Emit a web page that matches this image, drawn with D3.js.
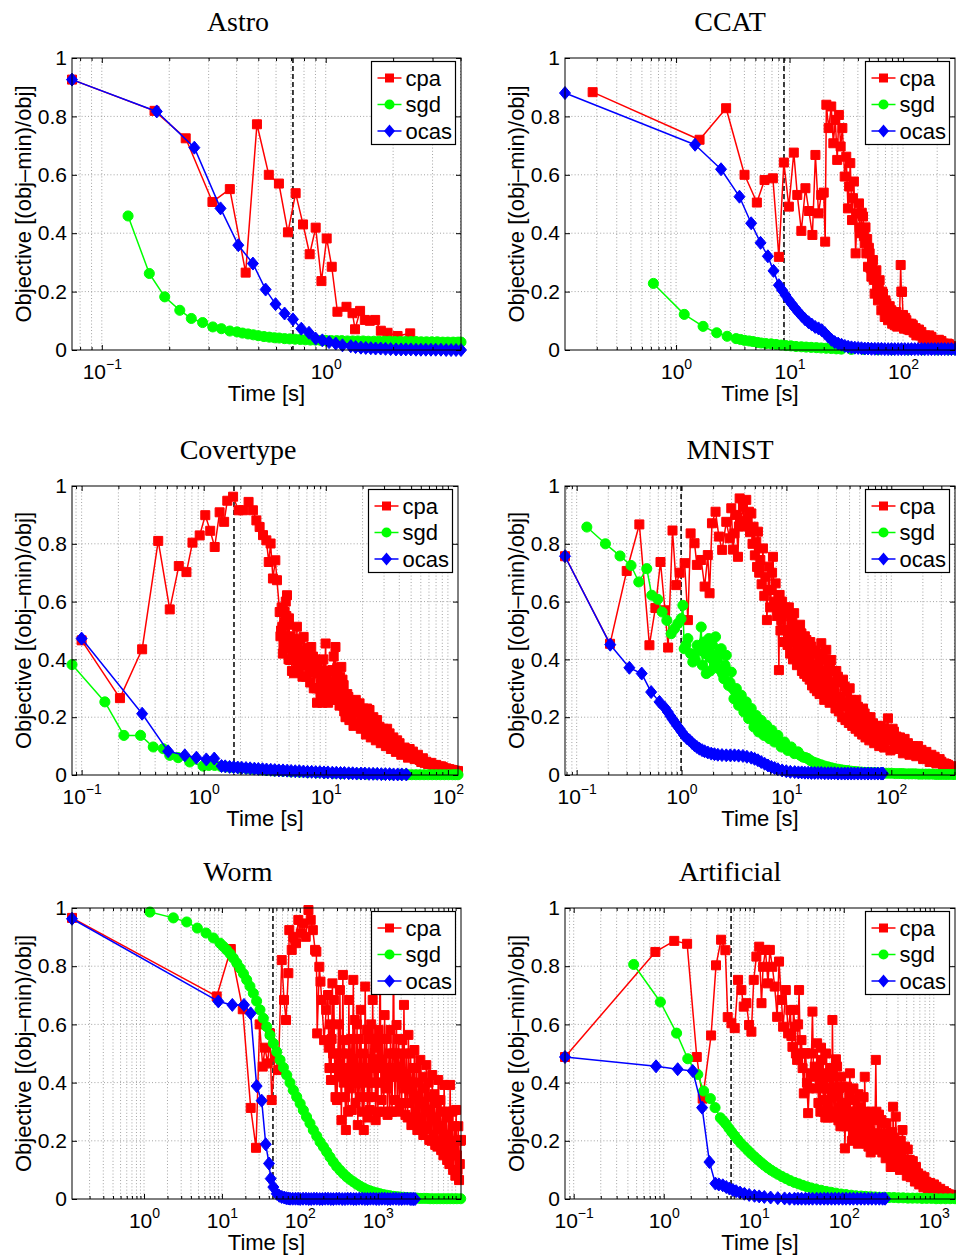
<!DOCTYPE html>
<html>
<head>
<meta charset="utf-8">
<script src="https://cdn.jsdelivr.net/npm/d3@7"></script>
<style>
body { margin: 0; background: #fff; }
svg { display: block; font-family: "Liberation Sans", Arial, Helvetica, sans-serif; }
</style>
</head>
<body>
<svg id="chart" width="956" height="1256"></svg>
<script>
// ---- data: [time in s, (obj-min)/obj] ----
var astroCpa = [[0.0736,0.926],[0.172,0.819],[0.237,0.725],[0.312,0.507],[0.373,0.551],[0.439,0.265],[0.493,0.773],[0.557,0.6],[0.618,0.57],[0.678,0.403],[0.734,0.537],[0.792,0.43],[0.848,0.328],[0.902,0.419],[0.957,0.236],[1.01,0.382],[1.064,0.285],[1.128,0.131],[1.238,0.148],[1.317,0.126],[1.352,0.071],[1.424,0.134],[1.495,0.103],[1.574,0.1],[1.663,0.103],[1.763,0.066],[1.889,0.059],[2.094,0.048],[2.385,0.057]];
var astroSgd = [[0.131,0.459],[0.163,0.262],[0.191,0.182],[0.223,0.136],[0.251,0.108],[0.282,0.094],[0.313,0.079],[0.342,0.073],[0.373,0.065],[0.402,0.062],[0.425,0.058],[0.45,0.055],[0.475,0.052],[0.5,0.049],[0.53,0.046],[0.56,0.044],[0.59,0.042],[0.62,0.041],[0.655,0.039],[0.69,0.038],[0.73,0.037],[0.77,0.036],[0.81,0.035],[0.855,0.034],[0.9,0.034],[0.95,0.033],[1.0,0.033],[1.06,0.032],[1.12,0.032],[1.18,0.032],[1.25,0.031],[1.32,0.031],[1.39,0.031],[1.47,0.031],[1.55,0.03],[1.64,0.03],[1.73,0.03],[1.83,0.03],[1.93,0.03],[2.04,0.029],[2.15,0.029],[2.27,0.029],[2.4,0.029],[2.53,0.029],[2.67,0.028],[2.82,0.028],[2.98,0.028],[3.15,0.028],[3.33,0.027],[3.51,0.027],[3.71,0.027],[3.9,0.027],[4.02,0.027]];
var astroOcas = [[0.0736,0.926],[0.176,0.817],[0.259,0.693],[0.339,0.485],[0.407,0.359],[0.473,0.296],[0.539,0.207],[0.597,0.157],[0.655,0.125],[0.714,0.105],[0.778,0.073],[0.842,0.059],[0.902,0.039],[0.966,0.033],[1.035,0.027],[1.109,0.022],[1.188,0.016],[1.294,0.013],[1.36,0.01],[1.436,0.008],[1.51,0.007],[1.59,0.006],[1.67,0.005],[1.76,0.005],[1.85,0.004],[1.95,0.003],[2.06,0.002],[2.17,0.002],[2.28,0.002],[2.4,0.002],[2.53,0.001],[2.66,0.001],[2.8,0.001],[2.95,0.001],[3.1,0.001],[3.27,0.001],[3.45,0],[3.63,0],[3.82,0],[4.02,0]];
var astroMark = 0.714;
var astroDecades = [0.1, 1];

var ccatCpa = [[0.184,0.883],[1.61,0.72],[2.76,0.828],[4.01,0.6],[5.15,0.505],[6.02,0.582],[7.13,0.588],[8.05,0.319],[8.91,0.642],[9.86,0.491],[10.9,0.676],[11.7,0.531],[12.7,0.408],[13.8,0.554],[14.8,0.476],[15.9,0.394],[16.9,0.668],[18.0,0.468],[19.0,0.531],[20.0,0.539],[20.6,0.371],[21.1,0.84],[22.1,0.76],[23.3,0.834],[24.3,0.708],[25.3,0.788],[26.3,0.651],[27.2,0.805],[28.2,0.697],[29.2,0.76],[30.6,0.594],[31.6,0.662],[32.7,0.485],[33.5,0.56],[34.3,0.64],[35.5,0.445],[36.2,0.52],[36.9,0.577],[38.2,0.331],[39.5,0.468],[40.9,0.502],[41.5,0.42],[42.3,0.4],[43.3,0.47],[44.4,0.457],[45.2,0.39],[45.9,0.365],[46.7,0.42],[47.5,0.331],[48.3,0.38],[49.1,0.285],[50,0.35],[50.8,0.331],[51.7,0.28],[52.6,0.251],[53.5,0.3],[54.3,0.308],[55.2,0.24],[56.2,0.193],[57.2,0.26],[58.2,0.273],[59.1,0.21],[60.1,0.17],[61.1,0.22],[62.2,0.239],[63.3,0.18],[64.4,0.136],[65.5,0.2],[66.6,0.193],[67.7,0.14],[68.9,0.113],[70.1,0.17],[71.3,0.159],[72.5,0.12],[73.8,0.102],[75,0.13],[76.3,0.15],[77.6,0.11],[78.9,0.136],[80.2,0.09],[81.6,0.1],[83,0.12],[84.4,0.085],[85.9,0.11],[87.4,0.13],[88.9,0.08],[90.4,0.119],[93,0.09],[95.3,0.291],[96.6,0.2],[98,0.199],[100,0.12],[102,0.073],[104.5,0.11],[107,0.102],[109,0.075],[111,0.07],[113,0.09],[115,0.068],[118.5,0.09],[122,0.085],[124,0.06],[126.5,0.06],[129,0.075],[131,0.05],[134.5,0.065],[138,0.07],[141.5,0.05],[145,0.062],[149,0.04],[153,0.045],[157,0.05],[161,0.039],[165.5,0.03],[170,0.05],[174,0.035],[178,0.045],[182.5,0.03],[187,0.032],[192,0.025],[197,0.027],[202,0.033],[207,0.035],[212.5,0.022],[218,0.031],[223.5,0.02],[229,0.022],[235,0.018],[241,0.016],[247.5,0.022],[254,0.02],[260.5,0.012],[267,0.013],[277,0.01],[287,0.005]];
var ccatSgd = [[0.631,0.228],[1.18,0.122],[1.73,0.081],[2.28,0.059],[2.82,0.047],[3.38,0.039],[3.7,0.036],[4.01,0.033],[4.4,0.031],[4.75,0.029],[5.2,0.026],[5.62,0.024],[6.2,0.022],[6.89,0.021],[7.6,0.019],[8.44,0.017],[9.3,0.015],[10.3,0.014],[11.4,0.012],[12.7,0.011],[14,0.01],[15.5,0.009],[17.2,0.008],[19,0.007],[21,0.006],[23.3,0.005],[25.8,0.004],[28.6,0.003],[35,0.002],[45,0.002],[60,0.001],[80,0.001],[110,0.001],[150,0.001],[200,0.001],[250,0.001],[287,0.001]];
var ccatOcas = [[0.105,0.88],[1.47,0.703],[2.49,0.619],[3.62,0.525],[4.59,0.434],[5.55,0.367],[6.44,0.321],[7.22,0.271],[8.05,0.222],[8.6,0.205],[9.2,0.188],[9.8,0.172],[10.5,0.157],[11.2,0.143],[12.0,0.129],[12.8,0.117],[13.7,0.105],[14.7,0.095],[15.7,0.087],[16.8,0.079],[18.0,0.074],[19.2,0.068],[20.5,0.058],[21.9,0.046],[23.4,0.035],[25.0,0.027],[26.8,0.022],[28.7,0.018],[30.7,0.014],[32.8,0.011],[35.1,0.009],[37.6,0.008],[40.2,0.007],[43,0.006],[46,0.005],[49.2,0.005],[52.7,0.004],[56.4,0.004],[60.3,0.004],[64.5,0.004],[69,0.003],[73.9,0.003],[79,0.003],[84.5,0.003],[90.5,0.003],[96.8,0.003],[103.6,0.003],[110.8,0.003],[118.6,0.003],[126.9,0.003],[135.8,0.003],[145.3,0.003],[155.4,0.003],[166.3,0.003],[178,0.003],[190.4,0.003],[203.8,0.003],[218,0.003],[233,0.003],[249.5,0.003],[267,0.003],[287,0.003]];
var ccatMark = 8.93;
var ccatDecades = [1, 10, 100];

var coverCpa = [[0.1,0.466],[0.206,0.266],[0.313,0.435],[0.424,0.81],[0.527,0.573],[0.625,0.723],[0.722,0.702],[0.809,0.804],[0.927,0.829],[1.03,0.899],[1.13,0.845],[1.23,0.789],[1.35,0.909],[1.47,0.876],[1.56,0.949],[1.74,0.963],[1.93,0.916],[2.1,0.916],[2.33,0.945],[2.53,0.916],[2.7,0.881],[2.87,0.858],[3.06,0.83],[3.26,0.812],[3.41,0.737],[3.53,0.801],[3.69,0.68],[3.86,0.743],[3.98,0.674],[4.19,0.564],[4.25,0.48],[4.3,0.5],[4.35,0.58],[4.4,0.513],[4.45,0.42],[4.5,0.45],[4.55,0.52],[4.6,0.564],[4.65,0.48],[4.7,0.6],[4.75,0.55],[4.81,0.622],[4.85,0.47],[4.9,0.52],[4.95,0.4],[4.99,0.542],[5.05,0.45],[5.1,0.398],[5.16,0.48],[5.22,0.438],[5.28,0.36],[5.35,0.47],[5.42,0.4],[5.49,0.352],[5.57,0.46],[5.65,0.42],[5.72,0.36],[5.8,0.513],[5.87,0.4],[5.95,0.45],[6.02,0.37],[6.1,0.421],[6.2,0.47],[6.3,0.39],[6.44,0.34],[6.58,0.478],[6.7,0.38],[6.8,0.43],[6.9,0.34],[7.0,0.398],[7.15,0.44],[7.3,0.37],[7.45,0.32],[7.6,0.443],[7.72,0.36],[7.85,0.41],[7.97,0.3],[8.1,0.352],[8.22,0.4],[8.35,0.3],[8.47,0.25],[8.6,0.374],[8.75,0.3],[8.9,0.36],[9.05,0.27],[9.2,0.328],[9.37,0.25],[9.55,0.4],[9.75,0.3],[9.96,0.455],[10.1,0.3],[10.3,0.35],[10.45,0.25],[10.6,0.282],[10.75,0.36],[10.9,0.32],[11.1,0.26],[11.3,0.363],[11.45,0.29],[11.6,0.41],[11.8,0.3],[12.0,0.443],[12.2,0.3],[12.4,0.37],[12.6,0.26],[12.8,0.317],[12.95,0.24],[13.1,0.34],[13.25,0.27],[13.4,0.374],[13.55,0.26],[13.7,0.33],[13.85,0.24],[14.0,0.311],[14.15,0.22],[14.3,0.27],[14.5,0.2],[14.7,0.236],[15.0,0.28],[15.3,0.27],[15.6,0.19],[15.9,0.259],[16.2,0.2],[16.5,0.23],[16.85,0.17],[17.2,0.213],[17.6,0.26],[18,0.24],[18.45,0.18],[18.9,0.248],[19.35,0.16],[19.8,0.2],[20.3,0.23],[20.8,0.19],[21.3,0.14],[21.8,0.23],[22.3,0.17],[22.8,0.225],[23.35,0.13],[23.9,0.17],[24.5,0.2],[25.1,0.156],[25.7,0.12],[26.3,0.19],[26.9,0.13],[27.5,0.167],[28.2,0.11],[28.9,0.13],[29.6,0.16],[30.3,0.132],[31.05,0.1],[31.8,0.16],[32.55,0.11],[33.3,0.144],[34.1,0.09],[34.9,0.11],[35.75,0.13],[36.6,0.098],[37.5,0.08],[38.4,0.12],[39.3,0.085],[40.2,0.11],[41.5,0.07],[42.8,0.08],[44.2,0.095],[45.6,0.075],[47.1,0.06],[48.6,0.09],[50.15,0.065],[51.7,0.081],[53.35,0.055],[55,0.06],[56.8,0.07],[58.6,0.052],[60.5,0.045],[62.4,0.058],[64.45,0.042],[66.5,0.046],[68.65,0.038],[70.8,0.04],[73.1,0.042],[75.4,0.035],[77.85,0.03],[80.3,0.035],[82.9,0.028],[85.5,0.029],[88.25,0.03],[91,0.027],[94,0.022],[97,0.023],[100,0.02],[103,0.02],[106.5,0.018],[110,0.017],[115,0.015],[121,0.014]];
var coverSgd = [[0.0834,0.382],[0.155,0.253],[0.222,0.137],[0.304,0.137],[0.386,0.097],[0.466,0.091],[0.527,0.068],[0.617,0.06],[0.768,0.045],[0.988,0.031],[1.1,0.033],[1.23,0.033],[1.38,0.03],[1.53,0.028],[1.74,0.026],[1.97,0.024],[2.24,0.022],[2.53,0.02],[2.88,0.018],[3.26,0.016],[3.8,0.014],[4.46,0.013],[5.2,0.011],[6.1,0.01],[7.1,0.009],[8.37,0.008],[9.8,0.007],[11.5,0.006],[13.4,0.005],[15.7,0.005],[18.4,0.004],[21.5,0.003],[25.2,0.003],[29.4,0.002],[34.4,0.002],[40.2,0.002],[43.4,0.002],[46.9,0.001],[50.6,0.001],[54.7,0.001],[59,0.001],[63.8,0.001],[68.9,0.001],[74.4,0.001],[80.3,0.001],[86.8,0.001],[93.7,0.001],[101,0.001],[109,0.001],[115,0.001],[121,0.001]];
var coverOcas = [[0.1,0.472],[0.313,0.212],[0.511,0.082],[0.7,0.068],[0.871,0.06],[1.05,0.054],[1.22,0.057],[1.4,0.031],[1.5,0.03],[1.63,0.028],[1.76,0.027],[1.9,0.026],[2.05,0.025],[2.22,0.024],[2.4,0.023],[2.6,0.022],[2.8,0.021],[3.03,0.02],[3.27,0.019],[3.54,0.018],[3.82,0.017],[4.13,0.016],[4.46,0.016],[4.82,0.015],[5.2,0.014],[5.62,0.013],[6.07,0.013],[6.56,0.012],[7.09,0.011],[7.66,0.011],[8.27,0.01],[8.94,0.01],[9.66,0.009],[10.4,0.009],[11.3,0.008],[12.2,0.008],[13.2,0.007],[14.2,0.007],[15.4,0.006],[16.6,0.006],[17.9,0.005],[19.4,0.005],[20.9,0.005],[22.6,0.004],[24.4,0.004],[26.4,0.004],[28.5,0.003],[30.8,0.003],[33.3,0.003],[35.9,0.002],[38.8,0.002],[41.9,0.002],[45.6,0.002]];
var coverMark = 1.77;
var coverDecades = [0.1, 1, 10, 100];

var mnistCpa = [[0.0774,0.757],[0.208,0.454],[0.3,0.706],[0.396,0.867],[0.494,0.449],[0.563,0.578],[0.63,0.737],[0.695,0.57],[0.745,0.441],[0.82,0.846],[0.89,0.657],[0.96,0.7],[1.07,0.733],[1.15,0.536],[1.22,0.836],[1.33,0.802],[1.4,0.727],[1.54,0.744],[1.66,0.652],[1.78,0.761],[1.85,0.629],[1.95,0.871],[2.11,0.911],[2.27,0.825],[2.44,0.779],[2.67,0.876],[2.87,0.819],[2.98,0.923],[3.1,0.78],[3.2,0.836],[3.32,0.9],[3.45,0.755],[3.52,0.86],[3.58,0.957],[3.7,0.88],[3.85,0.928],[4.0,0.86],[4.14,0.952],[4.26,0.88],[4.39,0.911],[4.5,0.84],[4.63,0.905],[4.75,0.8],[4.86,0.859],[5.0,0.76],[5.16,0.807],[5.25,0.72],[5.35,0.842],[5.5,0.7],[5.64,0.744],[5.8,0.66],[5.97,0.784],[6.15,0.62],[6.34,0.686],[6.52,0.536],[6.65,0.64],[6.81,0.721],[7.0,0.58],[7.18,0.64],[7.3,0.7],[7.44,0.755],[7.65,0.6],[7.89,0.663],[8.1,0.55],[8.3,0.582],[8.48,0.363],[8.61,0.623],[8.77,0.5],[8.93,0.536],[9.1,0.6],[9.27,0.571],[9.44,0.46],[9.61,0.502],[9.85,0.58],[10.1,0.56],[10.25,0.45],[10.4,0.5],[10.55,0.58],[10.7,0.479],[10.85,0.42],[11.0,0.55],[11.2,0.47],[11.4,0.536],[11.55,0.4],[11.7,0.46],[11.85,0.56],[12.0,0.467],[12.2,0.42],[12.4,0.513],[12.6,0.38],[12.8,0.43],[13.0,0.5],[13.2,0.444],[13.35,0.39],[13.5,0.52],[13.7,0.42],[13.9,0.49],[14.05,0.36],[14.2,0.41],[14.4,0.47],[14.6,0.421],[14.8,0.35],[15.0,0.48],[15.25,0.38],[15.5,0.467],[15.75,0.34],[16.0,0.4],[16.2,0.45],[16.4,0.392],[16.65,0.33],[16.9,0.46],[17.1,0.36],[17.3,0.444],[17.55,0.31],[17.8,0.37],[18.0,0.43],[18.2,0.375],[18.5,0.3],[18.8,0.43],[19.05,0.34],[19.3,0.421],[19.55,0.29],[19.8,0.35],[20.1,0.42],[20.4,0.352],[20.7,0.28],[21.0,0.41],[21.25,0.33],[21.5,0.456],[21.75,0.3],[22.0,0.36],[22.3,0.4],[22.6,0.329],[22.95,0.26],[23.3,0.4],[23.65,0.3],[24.0,0.433],[24.35,0.28],[24.7,0.34],[25.1,0.38],[25.5,0.306],[25.8,0.25],[26.1,0.37],[26.45,0.29],[26.8,0.398],[27.3,0.26],[27.8,0.32],[28.3,0.36],[28.8,0.283],[29.35,0.23],[29.9,0.36],[30.45,0.27],[31,0.34],[31.6,0.22],[32.2,0.27],[32.8,0.32],[33.4,0.26],[34,0.2],[34.6,0.33],[35.25,0.24],[35.9,0.306],[36.55,0.19],[37.2,0.25],[37.9,0.29],[38.6,0.236],[39.35,0.18],[40.1,0.3],[40.85,0.21],[41.6,0.26],[42.4,0.17],[43.2,0.2],[44,0.25],[44.8,0.213],[45.6,0.16],[46.4,0.26],[47.25,0.19],[48.1,0.236],[49,0.15],[49.9,0.18],[50.85,0.22],[51.8,0.19],[52.75,0.14],[53.7,0.23],[54.7,0.17],[55.7,0.213],[56.75,0.13],[57.8,0.16],[58.9,0.2],[60,0.162],[61.7,0.12],[63.4,0.2],[65.1,0.15],[66.9,0.179],[68.7,0.11],[70.6,0.13],[72.6,0.17],[74.6,0.138],[76.7,0.1],[78.8,0.17],[81,0.12],[83.3,0.162],[85.6,0.095],[88,0.12],[90.4,0.15],[92.9,0.196],[94.6,0.12],[96.4,0.14],[98.2,0.085],[100,0.121],[103,0.16],[106,0.15],[109,0.09],[112,0.133],[115,0.11],[118,0.1],[121,0.13],[125,0.104],[129,0.075],[134,0.125],[139,0.09],[144,0.11],[149,0.07],[155,0.08],[161,0.1],[167,0.087],[173,0.065],[180,0.1],[187,0.07],[194,0.087],[201,0.055],[208,0.065],[216,0.08],[224,0.063],[232,0.045],[241,0.07],[250,0.05],[259,0.063],[269,0.04],[279,0.05],[289,0.055],[300,0.046],[311,0.033],[323,0.04],[335,0.038],[348,0.035],[361,0.025],[375,0.03],[390,0.028],[405,0.029]];
var mnistSgd = [[0.125,0.858],[0.188,0.8],[0.259,0.758],[0.33,0.725],[0.391,0.668],[0.466,0.714],[0.52,0.622],[0.593,0.608],[0.653,0.564],[0.724,0.535],[0.796,0.489],[0.857,0.506],[0.921,0.524],[0.99,0.541],[1.03,0.587],[1.06,0.437],[1.1,0.45],[1.15,0.472],[1.22,0.42],[1.28,0.391],[1.35,0.4],[1.41,0.449],[1.47,0.43],[1.54,0.512],[1.58,0.38],[1.63,0.46],[1.68,0.42],[1.72,0.351],[1.77,0.44],[1.82,0.472],[1.87,0.36],[1.92,0.403],[1.97,0.45],[2.03,0.414],[2.07,0.38],[2.11,0.478],[2.18,0.4],[2.25,0.368],[2.32,0.42],[2.39,0.437],[2.46,0.35],[2.53,0.333],[2.6,0.38],[2.67,0.414],[2.74,0.36],[2.81,0.31],[2.9,0.32],[2.98,0.356],[3.07,0.3],[3.16,0.264],[3.24,0.29],[3.33,0.299],[3.42,0.27],[3.5,0.241],[3.6,0.26],[3.71,0.276],[3.82,0.25],[3.93,0.218],[4.03,0.23],[4.14,0.253],[4.25,0.22],[4.36,0.195],[4.5,0.21],[4.62,0.23],[4.76,0.2],[4.9,0.166],[5.03,0.18],[5.16,0.206],[5.3,0.17],[5.43,0.149],[5.6,0.16],[5.75,0.189],[5.92,0.16],[6.1,0.137],[6.28,0.15],[6.47,0.172],[6.66,0.14],[6.86,0.126],[7.06,0.13],[7.27,0.155],[7.48,0.125],[7.7,0.114],[8.0,0.12],[8.29,0.137],[8.6,0.11],[8.93,0.097],[9.27,0.1],[9.6,0.114],[9.95,0.095],[10.3,0.085],[11.1,0.097],[11.9,0.074],[12.9,0.08],[13.6,0.068],[14.4,0.062],[15.2,0.06],[16,0.057],[16.9,0.05],[17.9,0.045],[18.9,0.042],[20,0.039],[21.5,0.035],[23.1,0.031],[24.9,0.028],[26.8,0.025],[28.8,0.022],[31,0.02],[33.4,0.018],[35.9,0.016],[38.7,0.015],[41.7,0.013],[44.9,0.012],[48.3,0.011],[52,0.01],[56,0.009],[60.3,0.009],[65,0.008],[70,0.008],[75.4,0.007],[81.2,0.007],[87.4,0.006],[94.1,0.006],[101,0.006],[109,0.005],[118,0.005],[127,0.005],[136,0.004],[147,0.004],[158,0.004],[170,0.004],[183,0.003],[197,0.003],[213,0.003],[229,0.003],[247,0.003],[266,0.002],[286,0.002],[308,0.002],[332,0.002],[357,0.002],[385,0.002],[402,0.002]];
var mnistOcas = [[0.0774,0.757],[0.209,0.451],[0.318,0.371],[0.417,0.351],[0.513,0.287],[0.616,0.253],[0.695,0.232],[0.74,0.218],[0.783,0.204],[0.825,0.192],[0.867,0.181],[0.91,0.17],[0.957,0.16],[1.0,0.15],[1.06,0.137],[1.12,0.128],[1.19,0.12],[1.26,0.111],[1.33,0.103],[1.4,0.097],[1.48,0.091],[1.57,0.086],[1.66,0.082],[1.78,0.078],[1.92,0.074],[2.06,0.072],[2.22,0.07],[2.43,0.069],[2.67,0.068],[2.92,0.068],[3.2,0.068],[3.5,0.067],[3.85,0.066],[4.2,0.063],[4.62,0.06],[4.97,0.056],[5.35,0.051],[5.75,0.045],[6.2,0.039],[6.67,0.033],[7.18,0.028],[7.7,0.024],[8.29,0.02],[9.1,0.016],[9.97,0.013],[10.9,0.011],[12,0.01],[13,0.009],[14,0.009],[15,0.008],[16.1,0.008],[17.3,0.007],[18.6,0.007],[20,0.007],[21.5,0.007],[23.2,0.006],[25,0.006],[26.8,0.006],[28.8,0.006],[31,0.005],[33.5,0.005],[36,0.005],[38.6,0.005],[41.5,0.005],[44.5,0.005],[48,0.005],[51.8,0.005],[55.8,0.005],[60,0.005],[64.5,0.005],[69.4,0.005],[74.5,0.005],[80,0.005],[83.2,0.005]];
var mnistMark = 0.99;
var mnistDecades = [0.1, 1, 10, 100];

var wormCpa = [[0.119,0.966],[8.57,0.696],[13.0,0.859],[18.5,0.652],[23.4,0.313],[27.4,0.176],[30.5,0.6],[33.4,0.455],[35.7,0.52],[38.7,0.466],[41.4,0.569],[43.5,0.34],[48.1,0.489],[53,0.443],[58.6,0.821],[62.7,0.684],[66.5,0.615],[71.2,0.776],[73.3,0.924],[78.7,0.856],[82.6,0.901],[89.4,0.879],[95.7,0.959],[103,0.913],[111,0.947],[119,0.901],[129,0.993],[138,0.959],[147,0.924],[157,0.856],[163,0.85],[167,0.569],[178,0.798],[184,0.747],[191,0.684],[205,0.546],[218,0.65],[230,0.701],[235,0.52],[240,0.45],[245,0.6],[251,0.409],[256,0.55],[262,0.741],[268,0.5],[274,0.684],[280,0.45],[287,0.35],[293,0.5],[300,0.34],[306,0.45],[313,0.6],[320,0.42],[327,0.718],[334,0.45],[342,0.271],[349,0.5],[357,0.77],[365,0.4],[373,0.546],[381,0.35],[390,0.237],[399,0.42],[408,0.5],[417,0.3],[426,0.684],[435,0.45],[445,0.38],[455,0.55],[465,0.306],[475,0.45],[486,0.753],[497,0.4],[508,0.615],[519,0.33],[531,0.42],[543,0.6],[555,0.254],[567,0.4],[580,0.55],[593,0.35],[606,0.65],[619,0.42],[633,0.3],[647,0.5],[662,0.237],[676,0.45],[691,0.73],[706,0.4],[722,0.581],[738,0.28],[755,0.35],[772,0.55],[789,0.306],[806,0.45],[824,0.6],[842,0.35],[861,0.684],[880,0.48],[900,0.4],[920,0.55],[941,0.271],[962,0.4],[983,0.52],[1005,0.3],[1027,0.581],[1050,0.45],[1073,0.907],[1097,0.4],[1122,0.34],[1147,0.55],[1172,0.45],[1198,0.3],[1225,0.632],[1252,0.45],[1280,0.38],[1308,0.55],[1337,0.289],[1367,0.42],[1398,0.5],[1429,0.3],[1460,0.581],[1493,0.42],[1526,0.3],[1560,0.5],[1595,0.856],[1630,0.45],[1667,0.34],[1704,0.5],[1742,0.598],[1781,0.3],[1820,0.42],[1861,0.55],[1902,0.306],[1944,0.45],[1988,0.5],[2032,0.33],[2077,0.546],[2123,0.4],[2171,0.667],[2219,0.38],[2268,0.289],[2319,0.5],[2370,0.4],[2423,0.28],[2477,0.564],[2532,0.38],[2589,0.33],[2646,0.5],[2705,0.254],[2766,0.4],[2827,0.45],[2890,0.28],[2954,0.512],[3020,0.35],[3087,0.3],[3156,0.45],[3226,0.237],[3298,0.35],[3371,0.4],[3446,0.25],[3523,0.478],[3601,0.33],[3681,0.28],[3763,0.42],[3847,0.22],[3932,0.33],[4020,0.38],[4109,0.24],[4201,0.46],[4294,0.3],[4390,0.25],[4488,0.4],[4588,0.203],[4690,0.3],[4794,0.35],[4901,0.2],[5010,0.426],[5122,0.28],[5236,0.22],[5352,0.36],[5471,0.186],[5593,0.27],[5718,0.33],[5845,0.18],[5975,0.409],[6108,0.25],[6244,0.2],[6383,0.34],[6525,0.168],[6670,0.24],[6819,0.3],[6971,0.15],[7126,0.392],[7284,0.22],[7446,0.17],[7612,0.3],[7781,0.134],[7954,0.2],[8132,0.28],[8313,0.12],[8498,0.392],[8687,0.2],[8880,0.15],[9078,0.3],[9280,0.1],[9487,0.18],[9698,0.25],[9914,0.08],[10134,0.306],[10360,0.15],[10590,0.1],[10826,0.25],[11067,0.065],[11313,0.12],[11565,0.2],[11720,0.203]];
var wormSgd = [[1.19,0.986],[2.38,0.966],[3.53,0.952],[4.84,0.931],[6.26,0.914],[7.77,0.897],[9.46,0.879],[10.4,0.868],[11.5,0.856],[12.7,0.843],[14.0,0.828],[15.5,0.811],[17.1,0.793],[18.9,0.774],[20.8,0.753],[22.9,0.731],[25.3,0.707],[27.9,0.68],[30.8,0.65],[34,0.621],[37.6,0.592],[41.4,0.563],[45.7,0.535],[50.5,0.506],[55.7,0.478],[61.5,0.452],[67.8,0.426],[74.8,0.4],[82.6,0.374],[91.2,0.351],[101,0.328],[111,0.305],[122,0.282],[135,0.26],[149,0.237],[165,0.216],[182,0.196],[201,0.179],[221,0.162],[244,0.144],[269,0.127],[297,0.112],[328,0.099],[362,0.087],[400,0.076],[441,0.067],[487,0.059],[537,0.051],[593,0.044],[655,0.038],[722,0.032],[797,0.028],[879,0.024],[970,0.021],[1071,0.018],[1182,0.015],[1305,0.013],[1440,0.011],[1590,0.009],[1755,0.008],[1937,0.007],[2138,0.006],[2360,0.005],[2605,0.004],[2875,0.003],[3173,0.003],[3500,0.002],[3870,0.002],[4270,0.002],[4710,0.001],[5200,0.001],[5740,0.001],[6340,0.001],[7000,0.001],[7720,0.001],[8520,0.001],[9400,0.001],[10380,0.001],[11614,0.001]];
var wormOcas = [[0.119,0.963],[9.0,0.679],[13.6,0.667],[19.2,0.667],[23.4,0.638],[27.9,0.388],[32.4,0.338],[36.5,0.188],[40.2,0.122],[42.3,0.07],[45.7,0.041],[50.5,0.018],[54.5,0.011],[58.5,0.007],[63,0.005],[67,0.003],[71,0.002],[75,0.001],[81,0.001],[88,0.001],[95,0.001],[101,0],[110,0.001],[120,0.001],[130,0],[140,0],[152,0.001],[165,0.001],[180,0],[195,0],[212,0.001],[230,0.001],[250,0],[270,0],[295,0.001],[320,0.001],[350,0],[380,0],[412,0.001],[450,0.001],[490,0],[530,0],[578,0.001],[630,0.001],[685,0],[740,0],[806,0.001],[880,0.001],[958,0],[1040,0],[1130,0.001],[1230,0.001],[1340,0],[1450,0],[1580,0.001],[1720,0.001],[1870,0],[2030,0],[2210,0.001],[2400,0.001],[2610,0],[2750,0],[2880,0],[3013,0]];
var wormMark = 45.2;
var wormDecades = [1, 10, 100, 1000];

var artCpa = [[0.0801,0.488],[0.808,0.849],[1.31,0.887],[1.82,0.877],[2.33,0.488],[2.71,0.345],[3.36,0.562],[3.81,0.803],[4.34,0.891],[4.84,0.855],[5.14,0.625],[5.65,0.604],[6.15,0.587],[6.7,0.753],[7.29,0.718],[7.74,0.661],[8.29,0.673],[8.87,0.598],[9.42,0.575],[10.0,0.753],[10.7,0.833],[11.5,0.867],[12.2,0.673],[12.7,0.798],[13.5,0.856],[14.4,0.741],[15.1,0.856],[16.1,0.798],[17.1,0.73],[18.2,0.626],[19.1,0.816],[20.3,0.684],[21.2,0.592],[22.7,0.718],[24.1,0.569],[25.5,0.649],[26.2,0.56],[26.9,0.523],[27.7,0.65],[28.6,0.592],[29.4,0.5],[30.3,0.478],[31.1,0.6],[31.9,0.718],[32.9,0.5],[33.9,0.546],[34.9,0.45],[36.0,0.363],[36.9,0.5],[37.8,0.501],[39,0.4],[40.2,0.295],[41.4,0.38],[42.7,0.432],[43.8,0.5],[44.9,0.644],[46.2,0.42],[47.6,0.455],[49.1,0.38],[50.6,0.535],[51.4,0.43],[52.3,0.33],[53.2,0.45],[54.1,0.386],[55,0.3],[55.9,0.52],[56.9,0.4],[57.9,0.478],[58.8,0.38],[59.7,0.3],[60.6,0.42],[61.5,0.34],[62.4,0.28],[63.4,0.5],[64.3,0.38],[65.3,0.432],[66.4,0.28],[67.5,0.33],[68.6,0.42],[69.8,0.295],[71,0.38],[72.3,0.45],[73.5,0.3],[74.8,0.615],[75.9,0.42],[77,0.36],[78.2,0.28],[79.4,0.386],[80.6,0.3],[81.8,0.48],[83,0.35],[84.3,0.455],[85.7,0.3],[87.2,0.27],[88.7,0.38],[90.3,0.317],[91.8,0.25],[93.4,0.42],[95,0.3],[96.6,0.386],[98.2,0.3],[99.8,0.25],[101.4,0.32],[103,0.174],[104.5,0.28],[106,0.33],[107.5,0.25],[109,0.386],[111,0.27],[113,0.3],[115,0.36],[117,0.432],[119,0.3],[121,0.26],[123,0.2],[125,0.295],[126.5,0.22],[128,0.38],[130,0.26],[132,0.34],[134,0.27],[136,0.22],[138.5,0.3],[141,0.248],[143.5,0.19],[146,0.36],[148.5,0.25],[151,0.317],[153.5,0.22],[156,0.2],[158.5,0.3],[161,0.226],[163.5,0.28],[166,0.35],[168.5,0.25],[171,0.42],[173.5,0.3],[176,0.24],[179,0.19],[182,0.283],[185,0.22],[188,0.18],[191.5,0.26],[195,0.203],[199,0.16],[203,0.3],[207.5,0.22],[212,0.271],[215.5,0.17],[219,0.2],[223,0.28],[227,0.478],[230.5,0.3],[234,0.28],[237.5,0.18],[241,0.226],[246,0.29],[251,0.17],[256.5,0.21],[262,0.271],[268,0.16],[274,0.22],[280,0.26],[286,0.18],[292,0.14],[298,0.26],[304.5,0.18],[311,0.226],[318,0.2],[325,0.15],[332,0.11],[339,0.134],[342.5,0.23],[346,0.2],[349.5,0.14],[353,0.317],[359,0.18],[365,0.21],[371.5,0.13],[378,0.283],[386.5,0.17],[395,0.12],[403.5,0.2],[412,0.157],[421,0.1],[430,0.2],[439.5,0.14],[449,0.237],[458.5,0.11],[468,0.13],[478.5,0.18],[489,0.111],[501.5,0.08],[514,0.17],[527.5,0.1],[541,0.134],[555,0.075],[569,0.09],[584.5,0.13],[600,0.077],[617,0.06],[634,0.11],[652,0.07],[670,0.088],[689,0.05],[708,0.06],[728,0.08],[748,0.054],[767.5,0.04],[787,0.075],[808,0.05],[829,0.059],[856.5,0.035],[884,0.045],[913,0.055],[942,0.037],[973,0.028],[1004,0.05],[1038,0.035],[1072,0.042],[1106,0.025],[1140,0.03],[1178.5,0.035],[1217,0.025],[1257.5,0.018],[1298,0.027],[1341,0.02],[1384,0.02],[1430,0.015],[1475,0.016],[1523.5,0.012],[1572,0.014],[1640,0.012],[1700,0.01]];
var artSgd = [[0.464,0.806],[0.918,0.677],[1.39,0.57],[1.85,0.482],[2.39,0.428],[2.78,0.371],[3.3,0.345],[3.72,0.314],[4.26,0.279],[4.6,0.268],[4.93,0.257],[5.3,0.243],[5.7,0.23],[6.15,0.217],[6.64,0.204],[7.2,0.191],[7.88,0.179],[8.6,0.167],[9.34,0.156],[10.2,0.145],[11.1,0.135],[12.1,0.125],[13.1,0.116],[14.3,0.107],[15.6,0.099],[17,0.092],[18.5,0.085],[20.6,0.077],[22.9,0.07],[25.4,0.063],[28.3,0.057],[31.5,0.052],[35,0.047],[39,0.042],[43.4,0.038],[49,0.034],[56,0.03],[63.6,0.026],[72.3,0.023],[82,0.02],[93.3,0.017],[106,0.015],[121,0.013],[137,0.011],[156,0.01],[175,0.009],[198,0.008],[222,0.007],[250,0.006],[282,0.006],[318,0.005],[360,0.005],[405,0.004],[457,0.004],[515,0.003],[580,0.003],[655,0.003],[740,0.002],[834,0.002],[940,0.002],[1060,0.001],[1195,0.001],[1350,0.001],[1520,0.001],[1720,0.001]];
var artOcas = [[0.0801,0.488],[0.822,0.456],[1.43,0.446],[2.1,0.44],[2.67,0.314],[3.22,0.127],[3.75,0.053],[4.1,0.05],[4.53,0.047],[4.95,0.041],[5.37,0.036],[5.85,0.031],[6.37,0.027],[7.05,0.022],[7.88,0.018],[8.9,0.014],[10.2,0.011],[11.5,0.009],[13.1,0.007],[15.4,0.005],[18.5,0.003],[22,0.002],[25,0.001],[28.3,0.001],[31,0.001],[34,0.001],[37.5,0.001],[41,0.001],[45,0.001],[50,0.001],[55,0.001],[60.5,0.001],[66.4,0.001],[73,0.001],[80,0.001],[88,0.001],[97,0.001],[106,0.001],[117,0.001],[128,0.001],[141,0.001],[155,0.001],[170,0.001],[187,0.001],[205,0.001],[226,0.001],[248,0.001],[270,0.001],[288,0.001]];
var artMark = 5.6;
var artDecades = [0.1, 1, 10, 100, 1000];

var titles = ["Astro", "CCAT", "Covertype", "MNIST", "Worm", "Artificial"];
var seriesNames = ["cpa", "sgd", "ocas"];
var yTicks = [0, 0.2, 0.4, 0.6, 0.8, 1];

// ---- layout ----
var colors = ["#ff0000", "#00ff00", "#0000ff"];
var boxes = [
    {x0: 72,  x1: 461, y0: 58,  y1: 350},
    {x0: 565, x1: 955, y0: 58,  y1: 350},
    {x0: 72,  x1: 458, y0: 486, y1: 775},
    {x0: 565, x1: 955, y0: 486, y1: 775},
    {x0: 72,  x1: 461, y0: 908, y1: 1199},
    {x0: 565, x1: 955, y0: 908, y1: 1199}
];

var panels = [
    {series: [astroCpa, astroSgd, astroOcas], mark: astroMark, decades: astroDecades},
    {series: [ccatCpa, ccatSgd, ccatOcas],    mark: ccatMark,  decades: ccatDecades},
    {series: [coverCpa, coverSgd, coverOcas], mark: coverMark, decades: coverDecades},
    {series: [mnistCpa, mnistSgd, mnistOcas], mark: mnistMark, decades: mnistDecades},
    {series: [wormCpa, wormSgd, wormOcas],    mark: wormMark,  decades: wormDecades},
    {series: [artCpa, artSgd, artOcas],       mark: artMark,   decades: artDecades}
];

var markers = [
    d3.symbol(d3.symbolSquare, 81)(),
    d3.symbol(d3.symbolCircle, 80)(),
    "M0,-6.5L5.5,0L0,6.5L-5.5,0Z"
];

var svg = d3.select("#chart");
svg.append("rect").attr("width", 956).attr("height", 1256).attr("fill", "#fff");

function styleAxis(g) {
    g.select(".domain").remove();
    g.attr("font-family", null).attr("font-size", 21);
    g.selectAll(".tick line").attr("stroke", "#000").attr("stroke-width", 1);
    g.selectAll(".tick text").attr("fill", "#000");
}

panels.forEach(function(p, i) {
    var b = boxes[i];
    var all = [].concat(p.series[0], p.series[1], p.series[2]);
    var x = d3.scaleLog().domain(d3.extent(all, d => d[0])).range([b.x0, b.x1]);
    var y = d3.scaleLinear().domain([0, 1]).range([b.y1, b.y0]);
    var g = svg.append("g");

    // log grid values (1..9 x 10^k inside the domain)
    var lo = x.domain()[0], hi = x.domain()[1];
    var gridVals = [];
    for (var k = Math.floor(Math.log10(lo)); k <= Math.ceil(Math.log10(hi)); k++) {
        for (var m = 1; m <= 9; m++) {
            var v = m * Math.pow(10, k);
            if (v > lo && v < hi) gridVals.push(v);
        }
    }
    var minorVals = gridVals.filter(v => p.decades.indexOf(+v.toPrecision(6)) < 0);

    // grid
    var grid = g.append("g").attr("stroke", "#8c8c8c").attr("stroke-width", 0.8)
        .attr("stroke-dasharray", "1,2.2");
    grid.selectAll("line.gx").data(gridVals).join("line").attr("class", "gx")
        .attr("x1", d => x(d)).attr("x2", d => x(d)).attr("y1", b.y0).attr("y2", b.y1);
    grid.selectAll("line.gy").data(yTicks.slice(1, -1)).join("line").attr("class", "gy")
        .attr("x1", b.x0).attr("x2", b.x1).attr("y1", d => y(d)).attr("y2", d => y(d));

    // dashed marker line
    g.append("line")
        .attr("x1", x(p.mark)).attr("x2", x(p.mark)).attr("y1", b.y0).attr("y2", b.y1)
        .attr("stroke", "#000").attr("stroke-width", 1.5).attr("stroke-dasharray", "5,3");

    // series
    var lineMaker = d3.line().x(d => x(d[0])).y(d => y(d[1]));
    p.series.forEach(function(data, s) {
        var sg = g.append("g");
        sg.append("path").datum(data)
            .attr("d", lineMaker)
            .attr("fill", "none")
            .attr("stroke", colors[s])
            .attr("stroke-width", 1.5)
            .attr("stroke-linejoin", "round");
        sg.selectAll("path.mk").data(data).join("path").attr("class", "mk")
            .attr("transform", d => `translate(${x(d[0])},${y(d[1])})`)
            .attr("d", markers[s])
            .attr("fill", colors[s])
            .attr("stroke", colors[s])
            .attr("stroke-width", 1);
    });

    // box
    g.append("rect").attr("x", b.x0).attr("y", b.y0)
        .attr("width", b.x1 - b.x0).attr("height", b.y1 - b.y0)
        .attr("fill", "none").attr("stroke", "#000").attr("stroke-width", 1);

    // y axes (ticks inside)
    g.append("g").attr("transform", `translate(${b.x0},0)`)
        .call(d3.axisLeft(y).tickValues(yTicks).tickSize(-5).tickSizeOuter(0)
            .tickPadding(5).tickFormat(d3.format("~g")))
        .call(styleAxis);
    g.append("g").attr("transform", `translate(${b.x1},0)`)
        .call(d3.axisRight(y).tickValues(yTicks).tickSize(-5).tickSizeOuter(0).tickFormat(""))
        .call(styleAxis);

    // x axes: majors with 10^k labels, minors unlabeled
    var bottom = g.append("g").attr("transform", `translate(0,${b.y1})`)
        .call(d3.axisBottom(x).tickValues(p.decades).tickSize(-5).tickSizeOuter(0)
            .tickPadding(14).tickFormat(""))
        .call(styleAxis);
    bottom.selectAll(".tick text").each(function(d) {
        var e = Math.round(Math.log10(d));
        var t = d3.select(this);
        t.append("tspan").text("10");
        t.append("tspan").attr("dy", -10).attr("font-size", 14).text(e < 0 ? "\u2212" + (-e) : e);
    });
    g.append("g").attr("transform", `translate(0,${b.y1})`)
        .call(d3.axisBottom(x).tickValues(minorVals).tickSize(-3).tickSizeOuter(0).tickFormat(""))
        .call(styleAxis);
    g.append("g").attr("transform", `translate(0,${b.y0})`)
        .call(d3.axisTop(x).tickValues(p.decades).tickSize(-5).tickSizeOuter(0).tickFormat(""))
        .call(styleAxis);
    g.append("g").attr("transform", `translate(0,${b.y0})`)
        .call(d3.axisTop(x).tickValues(minorVals).tickSize(-3).tickSizeOuter(0).tickFormat(""))
        .call(styleAxis);

    // labels
    var cx = (b.x0 + b.x1) / 2, cy = (b.y0 + b.y1) / 2;
    g.append("text")
        .attr("x", (i % 2 ? 730 : 238)).attr("y", b.y0 - 27)
        .attr("text-anchor", "middle")
        .attr("font-family", "'Liberation Serif', 'Times New Roman', serif")
        .attr("font-size", 28)
        .text(titles[i]);
    g.append("text")
        .attr("x", cx).attr("y", b.y1 + 51)
        .attr("text-anchor", "middle").attr("font-size", 22)
        .text("Time [s]");
    g.append("text")
        .attr("transform", `translate(${b.x0 - 41.5},${cy}) rotate(-90)`)
        .attr("text-anchor", "middle").attr("font-size", 22)
        .text("Objective [(obj\u2013min)/obj]");

    // legend
    var lg = g.append("g").attr("transform", `translate(${b.x1 - 5.5 - 84},${b.y0 + 3.5})`);
    lg.append("rect").attr("width", 84).attr("height", 83)
        .attr("fill", "#fff").attr("stroke", "#000").attr("stroke-width", 1.2);
    seriesNames.forEach(function(name, s) {
        var ry = 16.5 + s * 26.5;
        lg.append("line").attr("x1", 6).attr("x2", 30).attr("y1", ry).attr("y2", ry)
            .attr("stroke", colors[s]).attr("stroke-width", 1.5);
        lg.append("path").attr("transform", `translate(18,${ry})`)
            .attr("d", markers[s]).attr("fill", colors[s]);
        lg.append("text").attr("x", 34).attr("y", ry).attr("dy", "0.35em")
            .attr("font-size", 22).text(name);
    });
});
</script>
</body>
</html>
